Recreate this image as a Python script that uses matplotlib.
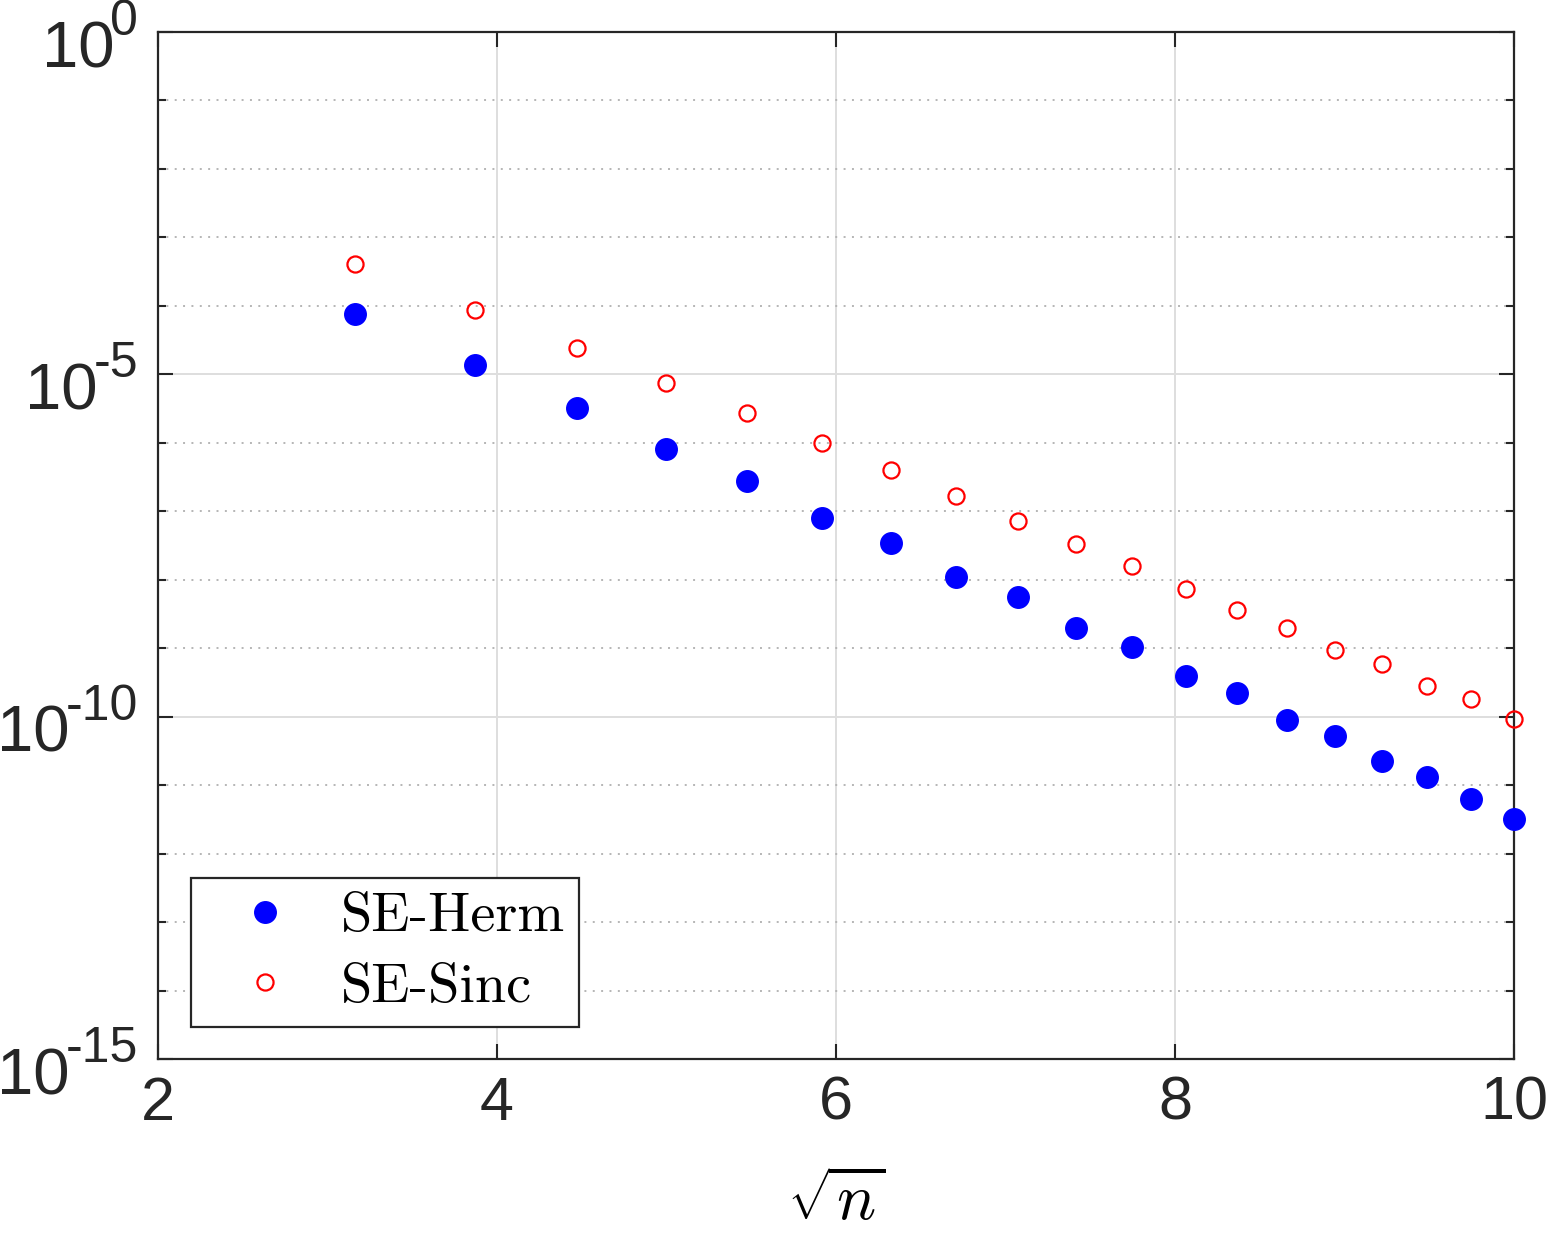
import numpy as np
import matplotlib
matplotlib.use('Agg')
import matplotlib.pyplot as plt
from matplotlib.ticker import FixedLocator, FuncFormatter, NullLocator, NullFormatter

# data: sqrt(n) for n = 10, 15, ..., 100
n_vals = [10, 15, 20, 25, 30, 35, 40, 45, 50, 55, 60, 65, 70, 75, 80, 85, 90, 95, 100]
err_herm = [7.6e-5, 1.37e-5, 3.2e-6, 8.1e-7, 2.77e-7, 8.0e-8, 3.44e-8, 1.1e-8, 5.6e-9,
            1.97e-9, 1.04e-9, 3.9e-10, 2.2e-10, 8.95e-11, 5.2e-11, 2.25e-11, 1.3e-11,
            6.3e-12, 3.2e-12]
err_sinc = [4.09e-4, 8.7e-5, 2.43e-5, 7.5e-6, 2.72e-6, 9.9e-7, 4.0e-7, 1.67e-7, 7.2e-8,
            3.33e-8, 1.59e-8, 7.3e-9, 3.6e-9, 1.97e-9, 9.4e-10, 5.9e-10, 2.8e-10,
            1.8e-10, 9.3e-11]
labels = ['SE-Herm', 'SE-Sinc']
x_ticks = [2, 4, 6, 8, 10]
y_exps = [0, -5, -10, -15]

plt.rcParams['font.family'] = ['Liberation Sans', 'DejaVu Sans']
dark = '#262626'

fig = plt.figure(figsize=(15.46, 12.36), dpi=100)
ax = fig.add_axes([0.1022, 0.1432, 0.8771, 0.8309])

x = np.sqrt(n_vals)
ax.plot(x, err_herm, 'o', color='#0000ff', ms=15.5, mec='#0000ff', clip_on=False,
        zorder=5, label=labels[0])
ax.plot(x, err_sinc, 'o', mfc='none', mec='#ff0000', ms=11.6, mew=1.6, clip_on=False,
        zorder=5, label=labels[1])

ax.set_yscale('log')
ax.set_xlim(2, 10)
ax.set_ylim(1e-15, 1e0)

ax.xaxis.set_major_locator(FixedLocator(x_ticks))
ax.xaxis.set_minor_locator(NullLocator())
ax.yaxis.set_major_locator(FixedLocator([10.0 ** e for e in y_exps]))
ax.yaxis.set_minor_locator(FixedLocator(10.0 ** np.arange(-15, 1)))
ax.yaxis.set_major_formatter(NullFormatter())
ax.yaxis.set_minor_formatter(NullFormatter())
ax.xaxis.set_major_formatter(FuncFormatter(lambda v, p: '%d' % v))

# y labels drawn as "10" plus a raised exponent, MATLAB style
ytrans = ax.get_yaxis_transform()
for e in y_exps:
    sup = ax.annotate(str(e), xy=(0, 10.0 ** e), xycoords=ytrans, xytext=(-20, -3),
                      textcoords='offset pixels', ha='right', va='baseline',
                      fontsize=36, color=dark, annotation_clip=False)
    ax.annotate('10', xy=(0, 10.0 ** e), xycoords=(sup, ytrans), xytext=(4, -35),
                textcoords='offset pixels', ha='right', va='baseline',
                fontsize=47, color=dark, annotation_clip=False)

ax.tick_params(which='both', direction='in', top=True, right=True, colors=dark,
               width=1.5, labelsize=44, labelcolor=dark)
ax.tick_params(which='major', length=10.5)
ax.tick_params(which='minor', length=5.5)
ax.tick_params(axis='x', pad=12)

for sp in ax.spines.values():
    sp.set_color(dark)
    sp.set_linewidth(1.6)

ax.grid(True, which='major', color='#dedede', lw=1.4, ls='-')
ax.yaxis.grid(True, which='minor', color='#b5b5b5', lw=1.4, ls=(0, (1, 3.3)))
ax.set_axisbelow(True)

ax.set_xlabel(r'$\sqrt{n}$', fontsize=47, math_fontfamily='cm', labelpad=29)

leg = ax.legend(loc='lower left', bbox_to_anchor=(0.0243, 0.0312), borderaxespad=0,
                prop={'family': 'cmr10', 'size': 40.5}, frameon=True, fancybox=False,
                handlelength=2.14, handletextpad=0.27, borderpad=0.25,
                labelspacing=0.36)
frame = leg.get_frame()
frame.set_edgecolor(dark)
frame.set_linewidth(1.6)
frame.set_alpha(1)

fig.savefig('out.png', dpi=100)
